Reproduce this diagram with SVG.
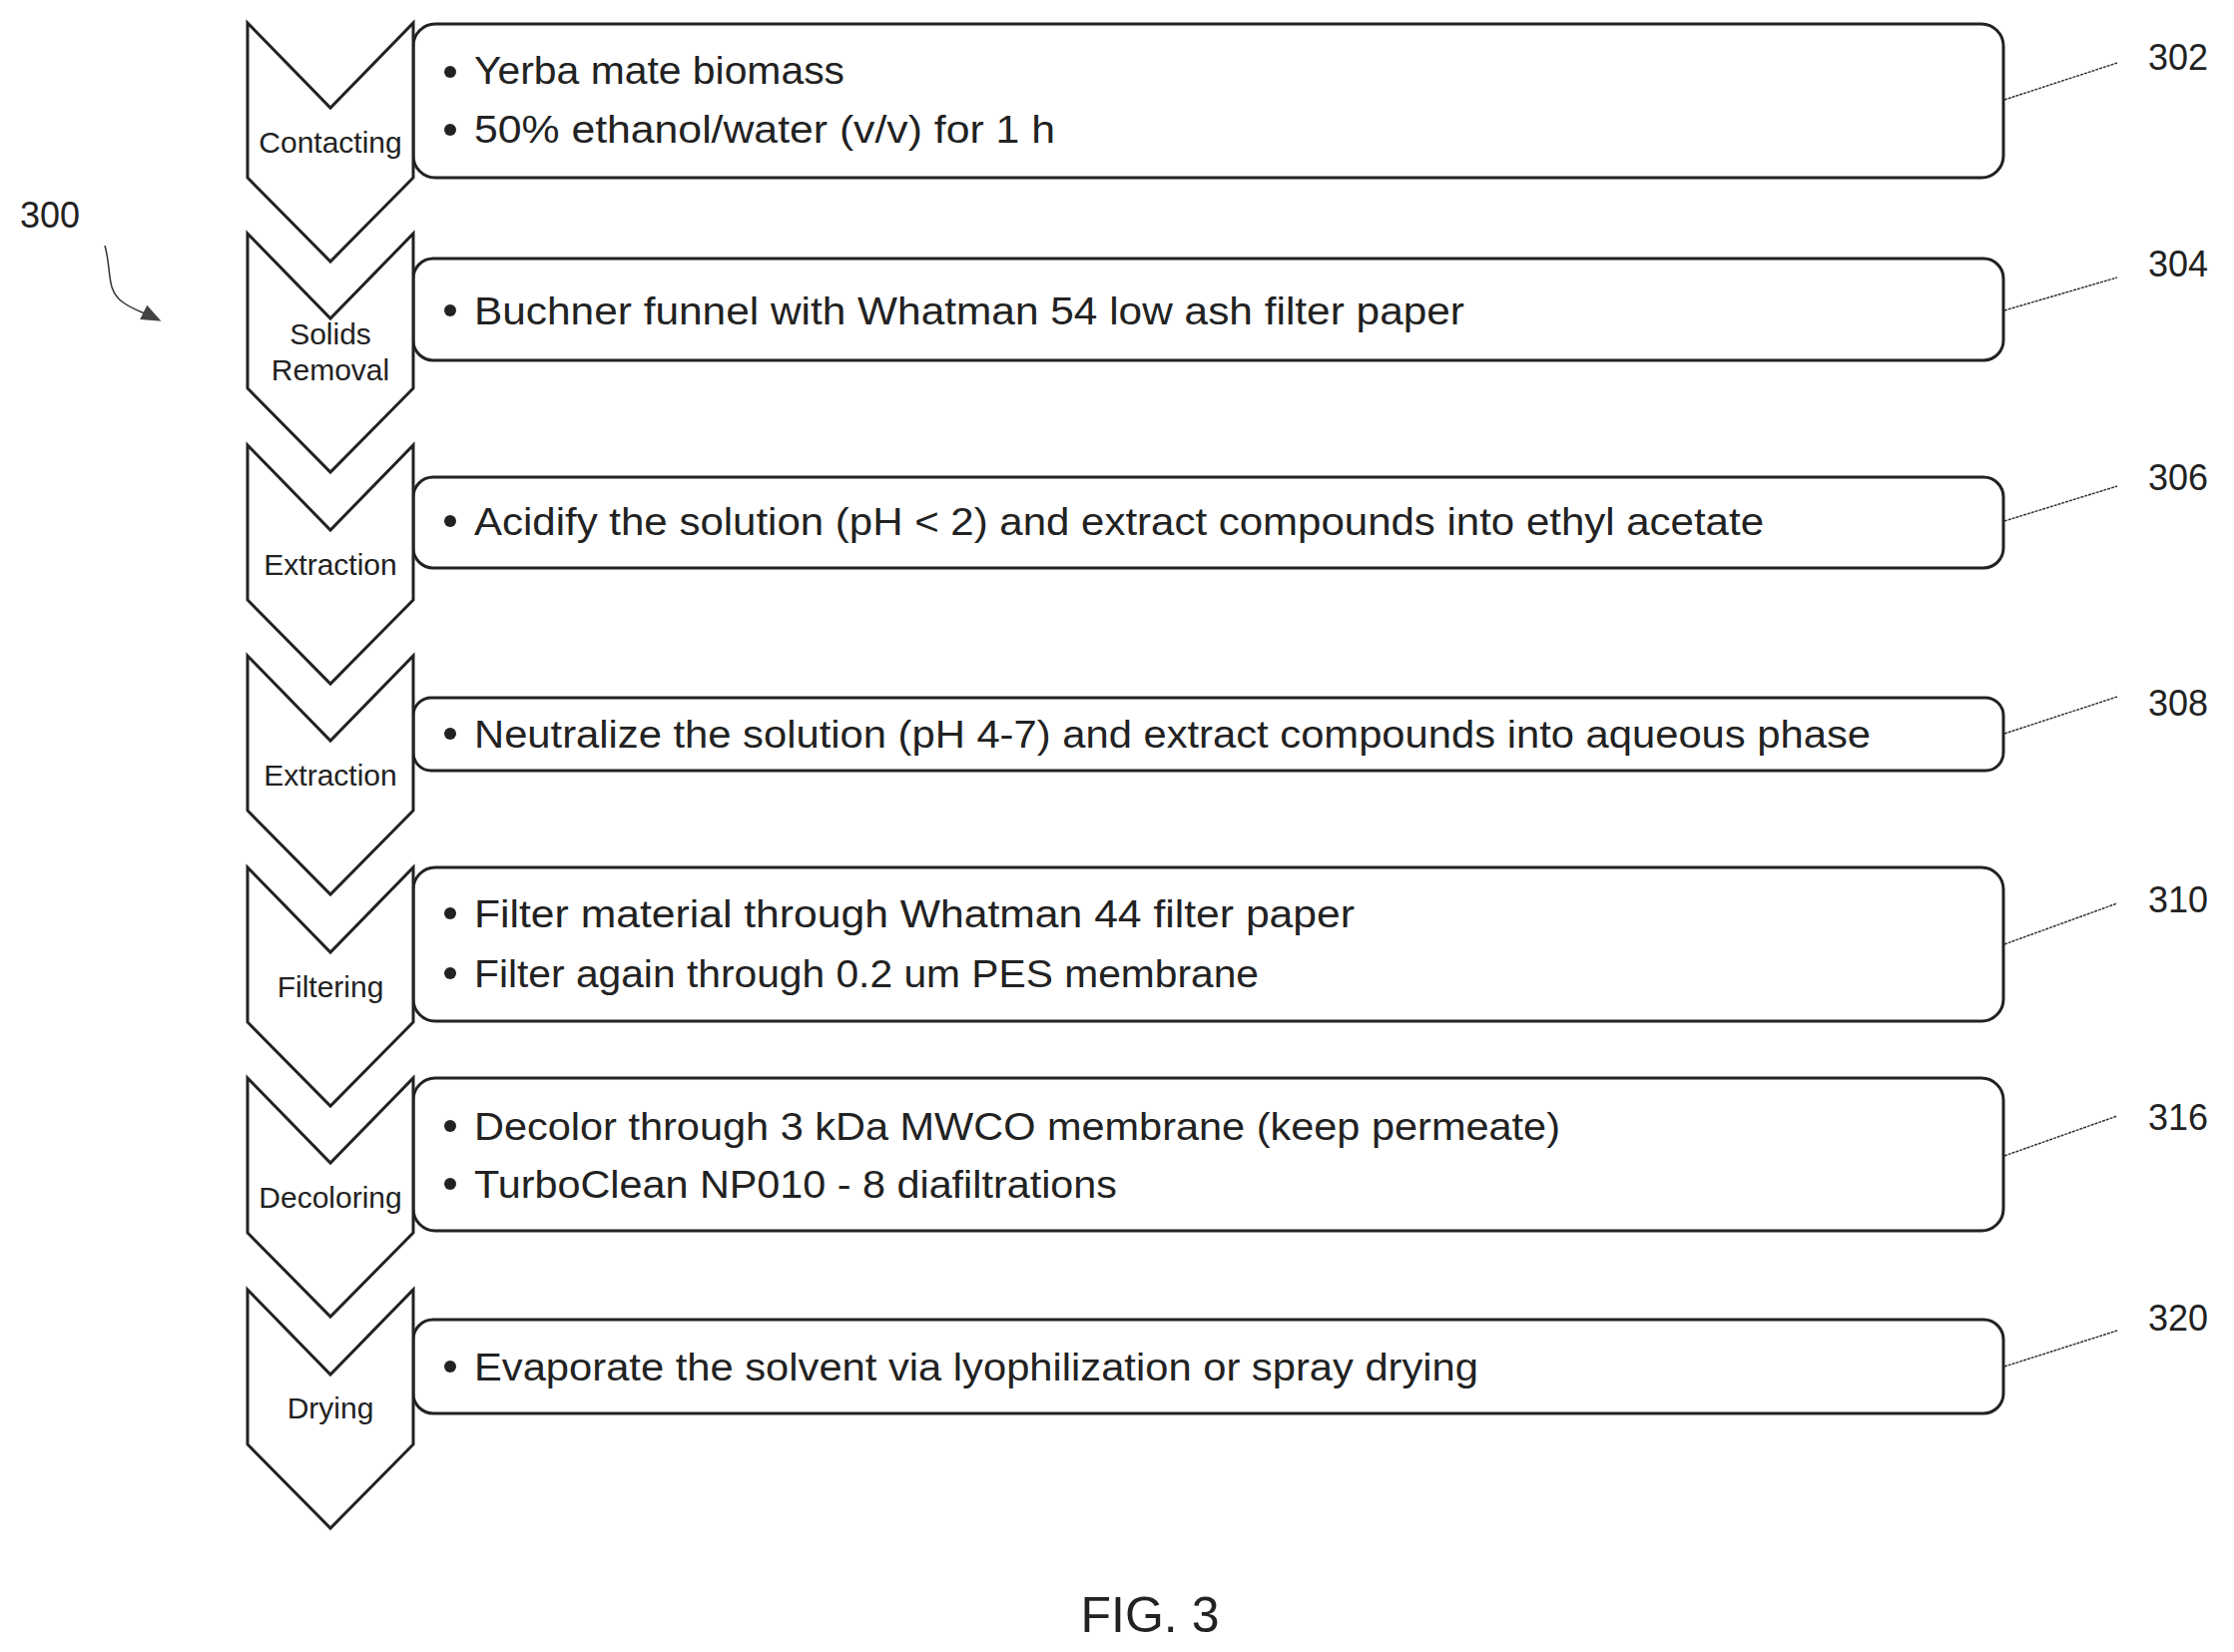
<svg xmlns="http://www.w3.org/2000/svg" width="2238" height="1655" viewBox="0 0 2238 1655">
<style>
.box{fill:#fff;stroke:#222;stroke-width:3}
.chev{fill:#fff;stroke:#222;stroke-width:3}
.t{font-family:"Liberation Sans",Arial,sans-serif;font-size:38px;fill:#222}
.c{font-family:"Liberation Sans",Arial,sans-serif;font-size:30px;fill:#222;text-anchor:middle}
.n{font-family:"Liberation Sans",Arial,sans-serif;font-size:36px;fill:#222}
.b{fill:#222}
.ld{stroke:#333;stroke-width:1.5;fill:none;stroke-dasharray:3 1}
</style>
<defs>
<marker id="ah" markerWidth="20" markerHeight="20" refX="16" refY="8" orient="auto" markerUnits="userSpaceOnUse" viewBox="0 0 20 16"><path d="M0,0 L20,8 L0,16 z" fill="#444"/></marker>
</defs>
<rect width="2238" height="1655" fill="#fff"/>
<g id="connectors">
<line class="ld" x1="2008" y1="100" x2="2121" y2="63"/>
<line class="ld" x1="2008" y1="311" x2="2121" y2="278"/>
<line class="ld" x1="2008" y1="522" x2="2121" y2="487"/>
<line class="ld" x1="2008" y1="735" x2="2121" y2="698"/>
<line class="ld" x1="2008" y1="946" x2="2121" y2="905"/>
<line class="ld" x1="2008" y1="1158" x2="2121" y2="1118"/>
<line class="ld" x1="2008" y1="1369" x2="2121" y2="1333"/>
<path class="ld" style="stroke-dasharray:none" d="M105,246 C112,270 106,290 122,302 C132,310 142,312 158,320" marker-end="url(#ah)"/>
</g>
<g id="label300"><text class="n" x="50" y="228" text-anchor="middle">300</text></g>
<g id="step302">
<rect class="box" x="414" y="24" width="1593" height="154" rx="22"/>
<polygon class="chev" points="248,23 331,108 414,23 414,178 331,262 248,178"/>
<text class="c" x="331" y="153">Contacting</text>
<circle class="b" cx="451" cy="72" r="6"/><text class="t" x="475" y="84" textLength="371" lengthAdjust="spacingAndGlyphs">Yerba mate biomass</text>
<circle class="b" cx="451" cy="130" r="6"/><text class="t" x="475" y="143" textLength="582" lengthAdjust="spacingAndGlyphs">50% ethanol/water (v/v) for 1 h</text>
<text class="n" x="2152" y="70">302</text>
</g>
<g id="step304">
<rect class="box" x="414" y="259" width="1593" height="102" rx="20"/>
<polygon class="chev" points="248,234 331,319 414,234 414,389 331,473 248,389"/>
<text class="c" x="331" y="345">Solids</text><text class="c" x="331" y="381">Removal</text>
<circle class="b" cx="451" cy="311" r="6"/><text class="t" x="475" y="325" textLength="992" lengthAdjust="spacingAndGlyphs">Buchner funnel with Whatman 54 low ash filter paper</text>
<text class="n" x="2152" y="277">304</text>
</g>
<g id="step306">
<rect class="box" x="414" y="478" width="1593" height="91" rx="20"/>
<polygon class="chev" points="248,446 331,531 414,446 414,601 331,685 248,601"/>
<text class="c" x="331" y="576">Extraction</text>
<circle class="b" cx="451" cy="522" r="6"/><text class="t" x="475" y="536" textLength="1292" lengthAdjust="spacingAndGlyphs">Acidify the solution (pH &lt; 2) and extract compounds into ethyl acetate</text>
<text class="n" x="2152" y="491">306</text>
</g>
<g id="step308">
<rect class="box" x="414" y="699" width="1593" height="73" rx="18"/>
<polygon class="chev" points="248,657 331,742 414,657 414,812 331,896 248,812"/>
<text class="c" x="331" y="787">Extraction</text>
<circle class="b" cx="451" cy="735" r="6"/><text class="t" x="475" y="749" textLength="1399" lengthAdjust="spacingAndGlyphs">Neutralize the solution (pH 4-7) and extract compounds into aqueous phase</text>
<text class="n" x="2152" y="717">308</text>
</g>
<g id="step310">
<rect class="box" x="414" y="869" width="1593" height="154" rx="22"/>
<polygon class="chev" points="248,869 331,954 414,869 414,1024 331,1108 248,1024"/>
<text class="c" x="331" y="999">Filtering</text>
<circle class="b" cx="451" cy="915" r="6"/><text class="t" x="475" y="929" textLength="882" lengthAdjust="spacingAndGlyphs">Filter material through Whatman 44 filter paper</text>
<circle class="b" cx="451" cy="975" r="6"/><text class="t" x="475" y="989" textLength="786" lengthAdjust="spacingAndGlyphs">Filter again through 0.2 um PES membrane</text>
<text class="n" x="2152" y="914">310</text>
</g>
<g id="step316">
<rect class="box" x="414" y="1080" width="1593" height="153" rx="22"/>
<polygon class="chev" points="248,1080 331,1165 414,1080 414,1235 331,1319 248,1235"/>
<text class="c" x="331" y="1210">Decoloring</text>
<circle class="b" cx="451" cy="1128" r="6"/><text class="t" x="475" y="1142" textLength="1088" lengthAdjust="spacingAndGlyphs">Decolor through 3 kDa MWCO membrane (keep permeate)</text>
<circle class="b" cx="451" cy="1186" r="6"/><text class="t" x="475" y="1200" textLength="644" lengthAdjust="spacingAndGlyphs">TurboClean NP010 - 8 diafiltrations</text>
<text class="n" x="2152" y="1132">316</text>
</g>
<g id="step320">
<rect class="box" x="414" y="1322" width="1593" height="94" rx="20"/>
<polygon class="chev" points="248,1292 331,1377 414,1292 414,1447 331,1531 248,1447"/>
<text class="c" x="331" y="1421">Drying</text>
<circle class="b" cx="451" cy="1369" r="6"/><text class="t" x="475" y="1383" textLength="1006" lengthAdjust="spacingAndGlyphs">Evaporate the solvent via lyophilization or spray drying</text>
<text class="n" x="2152" y="1333">320</text>
</g>
<g id="caption"><text class="n" x="1152" y="1635" text-anchor="middle" style="font-size:50px">FIG. 3</text></g>
</svg>
